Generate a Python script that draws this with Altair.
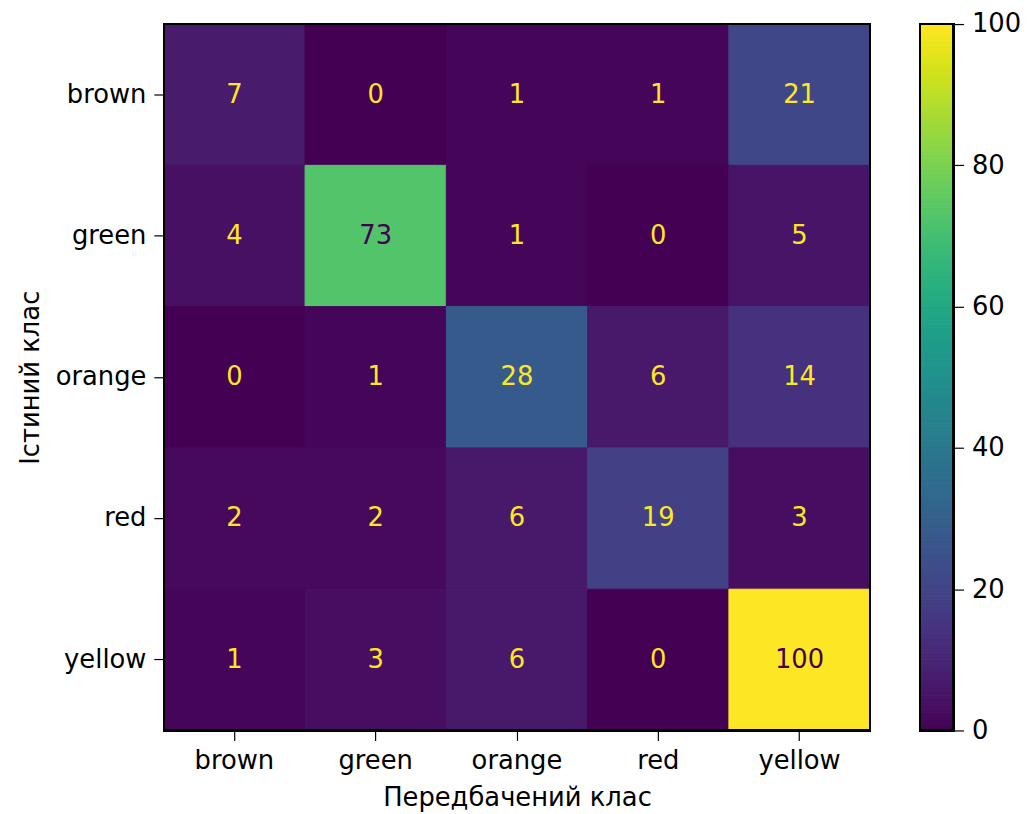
import altair as alt
import pandas as pd
import numpy as np

classes = ["brown", "green", "orange", "red", "yellow"]
matrix = [
    [7, 0, 1, 1, 21],
    [4, 73, 1, 0, 5],
    [0, 1, 28, 6, 14],
    [2, 2, 6, 19, 3],
    [1, 3, 6, 0, 100],
]
cbar_ticks = [0, 20, 40, 60, 80, 100]

rows = []
for i, t in enumerate(classes):
    for j, p in enumerate(classes):
        rows.append({"true": t, "pred": p, "value": matrix[i][j]})
df = pd.DataFrame(rows)

FONT = "DejaVu Sans"
FS = 26
W = 712
H = 712
CBW = 34

color_scale = alt.Scale(scheme="viridis", domain=[0, 100])

xenc = alt.X("pred:N", sort=classes,
             scale=alt.Scale(paddingInner=0, paddingOuter=0),
             axis=alt.Axis(title="Передбачений клас", labelAngle=0, domain=False,
                           tickSize=10, tickColor="black", tickWidth=1.2,
                           labelPadding=7, titlePadding=12))
yenc = alt.Y("true:N", sort=classes,
             scale=alt.Scale(paddingInner=0, paddingOuter=0),
             axis=alt.Axis(title="Істиний клас", domain=False,
                           tickSize=10, tickColor="black", tickWidth=1.2,
                           labelPadding=8, titlePadding=12))

base = alt.Chart(df)
rect = base.mark_rect(strokeWidth=1).encode(
    x=xenc, y=yenc,
    color=alt.Color("value:Q", scale=color_scale, legend=None),
    stroke=alt.Stroke("value:Q", scale=color_scale, legend=None),
)
text = base.mark_text(font=FONT, fontSize=FS).encode(
    x=alt.X("pred:N", sort=classes),
    y=alt.Y("true:N", sort=classes),
    text="value:Q",
    color=alt.condition("datum.value > 50", alt.value("#440154"), alt.value("#fde725")),
)
frame = base.mark_rect(fill=None, filled=False, stroke="black", strokeWidth=1.5).encode(
    x=alt.value(0), x2=alt.value(W), y=alt.value(0), y2=alt.value(H)
)
heat = alt.layer(rect, text, frame).properties(width=W, height=H)

steps = np.arange(0, 100, 0.5)
cb = pd.DataFrame({"lo": steps, "hi": steps + 0.5, "mid": steps + 0.25})
cbase = alt.Chart(cb)
crect = cbase.mark_rect(strokeWidth=1).encode(
    y=alt.Y("lo:Q", scale=alt.Scale(domain=[0, 100], nice=False),
            axis=alt.Axis(orient="right", values=cbar_ticks, title=None, domain=False,
                          grid=False, tickSize=10, tickColor="black", tickWidth=1.2,
                          labelPadding=8)),
    y2="hi:Q",
    color=alt.Color("mid:Q", scale=color_scale, legend=None),
    stroke=alt.Stroke("mid:Q", scale=color_scale, legend=None),
)
cframe = cbase.mark_rect(fill=None, filled=False, stroke="black", strokeWidth=1.5).encode(
    x=alt.value(0), x2=alt.value(CBW), y=alt.value(0), y2=alt.value(H)
)
cbar = alt.layer(crect, cframe).properties(width=CBW, height=H)

chart = alt.hconcat(heat, cbar, spacing=48).properties(
    padding={"left": 9, "top": 0, "right": 0, "bottom": 0}
).configure_view(stroke=None).configure_axis(
    labelFont=FONT, titleFont=FONT, labelFontSize=FS, titleFontSize=FS,
    labelColor="black", titleColor="black", titleFontWeight="normal", grid=False
)

chart.save("out.html", embed_options={"renderer": "svg", "actions": False})
